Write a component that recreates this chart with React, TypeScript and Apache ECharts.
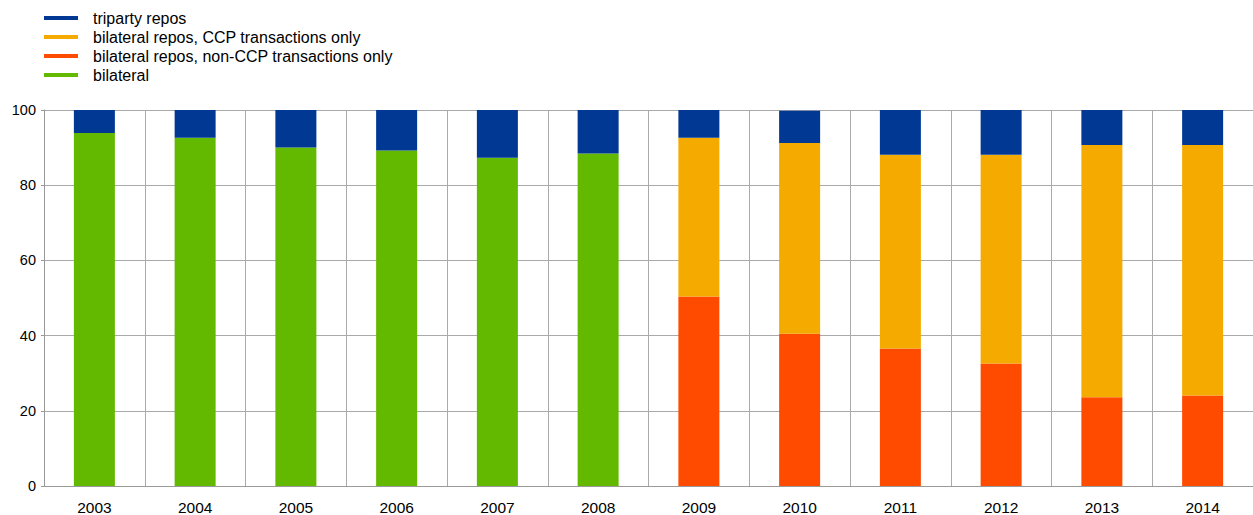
import React, { useEffect, useRef } from "react";
import * as echarts from "echarts";

const years = ["2003", "2004", "2005", "2006", "2007", "2008", "2009", "2010", "2011", "2012", "2013", "2014"];
const bilateral = [93.9, 92.6, 90.0, 89.2, 87.3, 88.4, null, null, null, null, null, null];
const nonCcp = [null, null, null, null, null, null, 50.4, 40.5, 36.6, 32.6, 23.6, 24.1];
const ccp = [null, null, null, null, null, null, 42.2, 50.7, 51.5, 55.5, 67.1, 66.6];
const triparty = [6.1, 7.4, 10.0, 10.8, 12.7, 11.6, 7.4, 8.6, 11.9, 11.9, 9.3, 9.3];

const names = {
  triparty: "triparty repos",
  ccp: "bilateral repos, CCP transactions only",
  nonCcp: "bilateral repos, non-CCP transactions only",
  bilateral: "bilateral",
};

export default function App() {
  const ref = useRef<HTMLDivElement>(null);
  useEffect(() => {
    document.body.style.margin = "0";
    const chart = echarts.init(ref.current!, null, { renderer: "svg" });
    const font = "Liberation Sans, Arial, sans-serif";
    const mk = (name: string, data: (number | null)[], color: string) => ({
      name,
      type: "bar",
      stack: "s",
      data,
      barWidth: 41,
      itemStyle: { color },
    });
    chart.setOption({
      animation: false,
      textStyle: { fontFamily: font },
      legend: {
        orient: "vertical",
        left: 39,
        top: 5,
        icon: "rect",
        itemWidth: 34,
        itemHeight: 4,
        itemGap: 3,
        textStyle: { fontSize: 16, color: "#000", fontFamily: font, padding: [0, 0, 0, 10] },
        data: [names.triparty, names.ccp, names.nonCcp, names.bilateral],
      },
      grid: { left: 44, right: 0, top: 110, bottom: 27, containLabel: false },
      xAxis: {
        type: "category",
        data: years,
        axisLine: { lineStyle: { color: "#999" } },
        axisTick: { length: 7, lineStyle: { color: "#999" } },
        splitLine: { show: true, lineStyle: { color: "#aaa" } },
        axisLabel: { color: "#000", fontSize: 15.5, margin: 13, fontFamily: font },
      },
      yAxis: {
        type: "value",
        min: 0,
        max: 100,
        interval: 20,
        axisLine: { show: true, lineStyle: { color: "#999" } },
        axisTick: { show: true, length: 3, lineStyle: { color: "#999" } },
        splitLine: { lineStyle: { color: "#aaa" } },
        axisLabel: { color: "#000", fontSize: 14.5, margin: 8, fontFamily: font },
      },
      series: [
        mk(names.bilateral, bilateral, "#63b800"),
        mk(names.nonCcp, nonCcp, "#ff4b00"),
        mk(names.ccp, ccp, "#f5aa00"),
        mk(names.triparty, triparty, "#003894"),
      ],
    });
    return () => chart.dispose();
  }, []);
  return <div ref={ref} style={{ width: 1253, height: 515 }} />;
}
